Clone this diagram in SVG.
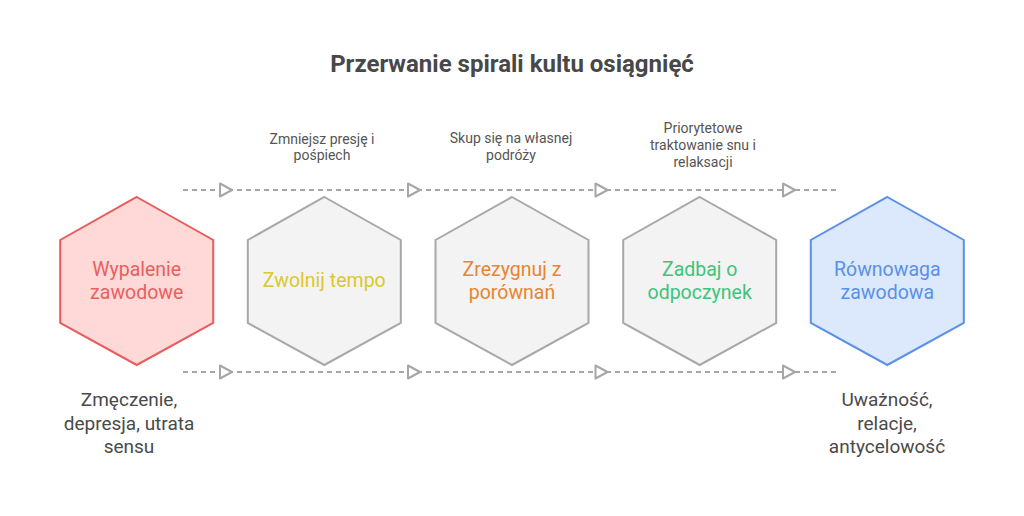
<svg xmlns="http://www.w3.org/2000/svg" width="1024" height="516" viewBox="0 0 1024 516">
<style>
text{font-family:Roboto,"Liberation Sans",sans-serif;text-anchor:middle}
.title{font-size:24px;font-weight:bold;fill:#484848}
.lbl{font-size:14px;fill:#555}
.side{font-size:19px;fill:#4a4a4a}
.ht{font-size:19.5px}
.dash{stroke:#a6a6a6;stroke-width:2;stroke-dasharray:5 4;fill:none}
.arr{fill:#fff;stroke:#a6a6a6;stroke-width:2;stroke-linejoin:round}
.hexg{fill:#f3f3f3;stroke:#a8a8a8;stroke-width:2}
</style>
<defs>
<path id="hex" d="M0,-84 L76.5,-41 L76.5,42 L0,84 L-76.5,42 L-76.5,-41 Z"/>
<polygon id="tri" points="-6,-6.5 6,0 -6,6.5"/>
</defs>
<rect width="1024" height="516" fill="#fff"/>
<text class="title" x="512" y="72">Przerwanie spirali kultu osiągnięć</text>
<g id="connectors">
<line class="dash" x1="183" y1="190" x2="840" y2="190"/>
<line class="dash" x1="183" y1="372" x2="840" y2="372"/>
<use href="#tri" class="arr" x="226" y="190"/>
<use href="#tri" class="arr" x="414" y="190"/>
<use href="#tri" class="arr" x="601.5" y="190"/>
<use href="#tri" class="arr" x="789" y="190"/>
<use href="#tri" class="arr" x="226" y="372"/>
<use href="#tri" class="arr" x="414" y="372"/>
<use href="#tri" class="arr" x="601.5" y="372"/>
<use href="#tri" class="arr" x="789" y="372"/>
</g>
<g id="node-wypalenie">
<use href="#hex" x="136.7" y="281" fill="#ffd8d8" stroke="#e85c5c" stroke-width="2"/>
<text class="ht" fill="#e8605e"><tspan x="136.7" y="276">Wypalenie</tspan><tspan x="136.7" y="299">zawodowe</tspan></text>
</g>
<g id="node-zwolnij">
<use href="#hex" class="hexg" x="324.3" y="281"/>
<text class="ht" fill="#dcc828" x="324.3" y="287">Zwolnij tempo</text>
</g>
<g id="node-zrezygnuj">
<use href="#hex" class="hexg" x="512" y="281"/>
<text class="ht" fill="#e8852e"><tspan x="512" y="276">Zrezygnuj z</tspan><tspan x="512" y="299">porównań</tspan></text>
</g>
<g id="node-zadbaj">
<use href="#hex" class="hexg" x="699.7" y="281"/>
<text class="ht" fill="#3ec47a"><tspan x="699.7" y="276">Zadbaj o</tspan><tspan x="699.7" y="299">odpoczynek</tspan></text>
</g>
<g id="node-rownowaga">
<use href="#hex" x="887.3" y="281" fill="#dce8fc" stroke="#5a90e6" stroke-width="2"/>
<text class="ht" fill="#5a90e6"><tspan x="887.3" y="276">Równowaga</tspan><tspan x="887.3" y="299">zawodowa</tspan></text>
</g>
<g id="labels">
<text class="lbl"><tspan x="322" y="144">Zmniejsz presję i</tspan><tspan x="322" y="160">pośpiech</tspan></text>
<text class="lbl"><tspan x="511" y="143">Skup się na własnej</tspan><tspan x="511" y="160">podróży</tspan></text>
<text class="lbl"><tspan x="703" y="133">Priorytetowe</tspan><tspan x="703" y="150">traktowanie snu i</tspan><tspan x="703" y="167">relaksacji</tspan></text>
<text class="side"><tspan x="129" y="406">Zmęczenie,</tspan><tspan x="129" y="429.5">depresja, utrata</tspan><tspan x="129" y="453">sensu</tspan></text>
<text class="side"><tspan x="887" y="406">Uważność,</tspan><tspan x="887" y="429.5">relacje,</tspan><tspan x="887" y="453">antycelowość</tspan></text>
</g>
</svg>
